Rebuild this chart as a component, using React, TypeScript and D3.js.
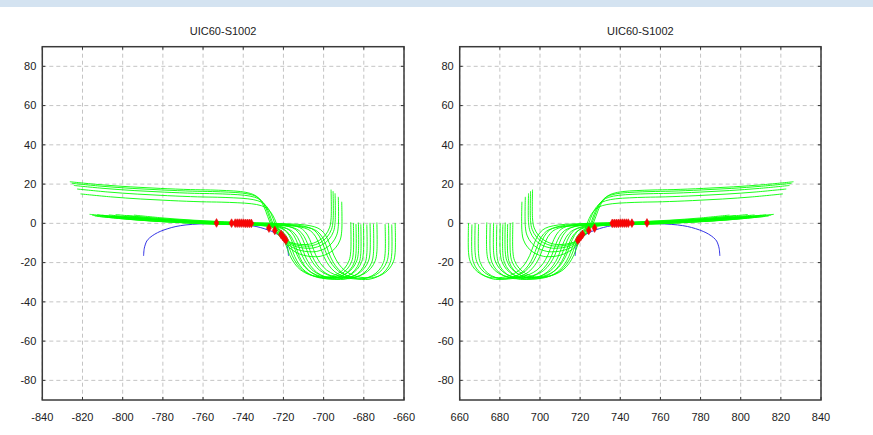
import React from 'react';
import * as d3 from 'd3';

const WIDTH = 873;
const HEIGHT = 435;
const TITLE = 'UIC60-S1002';

const xTicksLeft = [-840, -820, -800, -780, -760, -740, -720, -700, -680, -660];
const xTicksRight = [660, 680, 700, 720, 740, 760, 780, 800, 820, 840];
const yTicks = [-80, -60, -40, -20, 0, 20, 40, 60, 80];

// wheel profile: distance from the flange back, height (left wheel)
const profileD = [0, 0, 0.8, 3, 6.5, 10.7, 13, 17, 21, 25, 28, 30.5, 32.5, 34.5, 37, 40, 45, 52, 60, 70, 85, 100, 115, 130];
const profileZ = [0, -15, -19.5, -23.4, -26.3, -27.8, -28, -27.7, -26.6, -24.3, -21, -16.5, -11, -6.5, -3.5, -2, -1, -0.5, -0.2, 0, 0.6, 1.4, 2.5, 4];

// wheel positions: flange back x and vertical lift
const flatBack = [-686.5, -685.2, -683.9, -682.7, -681.5, -680.2, -678.5, -676.9, -675.2, -673.5, -669.4, -667.7, -666.1, -664.4];
const flatLift = [0.6, 0.2, -0.3, 0.4, -0.5, 0.1, -0.6, 0.3, -0.2, 0.5, -0.4, 0, -0.6, 0.2];
const tiltBack = [-696.3, -695.3, -694.3, -692.7, -691.0];
const tiltLift = [17.2, 16.4, 15.3, 13.5, 11.0];

// contact points
const contactX = [-753.3, -745.8, -744.0, -743.0, -742.0, -741.0, -740.0, -739.0, -738.0, -737.0, -736.0, -727.2, -724.3, -721.2, -720.4, -719.6, -718.8];
const contactY = [0.2, 0.1, 0.1, 0.1, 0.1, 0.1, 0.1, 0, 0, 0, 0, -2.4, -3.6, -5.6, -6.6, -7.6, -8.6];

// rail head (left rail)
const railX = [-789.6, -789.3, -788.8, -788.0, -786.5, -784.0, -781.3, -777.5, -773.5, -768.5, -762, -753.5, -745, -738.6, -733.6, -729.6, -725.8, -723.1, -720.6, -719.1, -718.3, -717.8, -717.5];
const railY = [-16.6, -13, -11, -9, -7.3, -5.5, -4.1, -2.7, -1.6, -0.8, -0.3, 0, -0.3, -0.8, -1.6, -2.7, -4.1, -5.5, -7.3, -9, -11, -13, -16.6];

const FONT = '"Liberation Sans", Arial, sans-serif';
const TOP = 46.7;
const BOTTOM = 400;

type PanelProps = { left: number; right: number; domain: [number, number]; ticks: number[]; mirror: number };

const Panel = ({ left, right, domain, ticks, mirror }: PanelProps) => {
  const x = d3.scaleLinear().domain(domain).range([left, right]);
  const y = d3.scaleLinear().domain([-90, 90]).range([BOTTOM, TOP]);

  const line = d3
    .line<[number, number]>()
    .x((d) => x(mirror * d[0]))
    .y((d) => y(d[1]))
    .curve(d3.curveCatmullRom);

  const wheel = (back: number, lift: number) =>
    line(profileD.map((d, i) => [back - d, lift + profileZ[i]] as [number, number])) || '';

  const rail = line(railX.map((v, i) => [v, railY[i]] as [number, number])) || '';
  const diamond = d3.symbol(d3.symbolDiamond, 22)() || '';

  return (
    <g>
      <text x={(left + right) / 2} y={34.5} textAnchor="middle" fontSize={11} fill="#222" fontFamily={FONT}>
        {TITLE}
      </text>
      {ticks.map((t) => (
        <line key={'gx' + t} x1={x(t)} x2={x(t)} y1={TOP} y2={BOTTOM} stroke="#c4c4c4" strokeDasharray="4,3" />
      ))}
      {yTicks.map((t) => (
        <line key={'gy' + t} x1={left} x2={right} y1={y(t)} y2={y(t)} stroke="#c4c4c4" strokeDasharray="4,3" />
      ))}
      <path d={rail} fill="none" stroke="#3434e6" strokeWidth={1} />
      {flatBack.map((b, i) => (
        <path key={'f' + i} d={wheel(b, flatLift[i])} fill="none" stroke="#00ff00" strokeWidth={0.9} />
      ))}
      {tiltBack.map((b, i) => (
        <path key={'t' + i} d={wheel(b, tiltLift[i])} fill="none" stroke="#00ff00" strokeWidth={0.9} />
      ))}
      {contactX.map((cx, i) => (
        <path
          key={'c' + i}
          d={diamond}
          transform={`translate(${x(mirror * cx)},${y(contactY[i])})`}
          fill="#ff0000"
          stroke="#e01010"
          strokeWidth={0.6}
        />
      ))}
      {ticks.map((t) => (
        <g key={'tx' + t}>
          <line x1={x(t)} x2={x(t)} y1={BOTTOM} y2={BOTTOM - 3} stroke="#333" />
          <line x1={x(t)} x2={x(t)} y1={TOP} y2={TOP + 3} stroke="#333" />
          <text x={x(t)} y={420.5} textAnchor="middle" fontSize={11} fill="#222" fontFamily={FONT}>
            {t}
          </text>
        </g>
      ))}
      {yTicks.map((t) => (
        <g key={'ty' + t}>
          <line x1={left} x2={left + 3} y1={y(t)} y2={y(t)} stroke="#333" />
          <line x1={right} x2={right - 3} y1={y(t)} y2={y(t)} stroke="#333" />
          <text x={left - 6} y={y(t)} dy="0.35em" textAnchor="end" fontSize={11} fill="#222" fontFamily={FONT}>
            {t}
          </text>
        </g>
      ))}
      <rect x={left} y={TOP} width={right - left} height={BOTTOM - TOP} fill="none" stroke="#3a3a3a" strokeWidth={1.5} />
    </g>
  );
};

export default function App() {
  return (
    <svg
      width={WIDTH}
      height={HEIGHT}
      style={{ position: 'absolute', left: 0, top: 0, background: '#fff' }}
    >
      <rect x={0} y={0} width={WIDTH} height={7} fill="#d4e3f1" />
      <Panel left={42.3} right={404} domain={[-840, -660]} ticks={xTicksLeft} mirror={1} />
      <Panel left={459.7} right={821} domain={[660, 840]} ticks={xTicksRight} mirror={-1} />
    </svg>
  );
}
